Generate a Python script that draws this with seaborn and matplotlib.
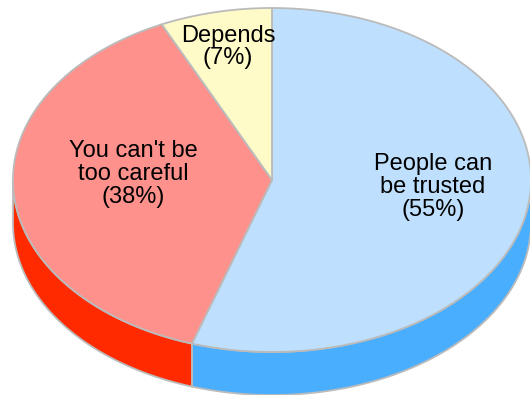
import numpy as np
import matplotlib
matplotlib.use("Agg")
import matplotlib.pyplot as plt
import seaborn as sns
from matplotlib.patches import Polygon

# data (clockwise from 12 o'clock)
labels = ["People can\nbe trusted", "You can't be\ntoo careful", "Depends"]
shares = [55, 38, 7]
top_colors = ["#BEE0FE", "#FF918C", "#FFFBC8"]
side_colors = ["#4AAEFF", "#FF2A00", "#FFE066"]
label_pos = [(433, 187), (133, 174), (228, 47)]

sns.set_theme(style="white")
plt.rcParams['font.family'] = ['Liberation Sans', 'DejaVu Sans']

fig = plt.figure(figsize=(5.3, 3.95), dpi=100)
ax = fig.add_axes([0, 0, 1, 1])
ax.set_xlim(0, 530)
ax.set_ylim(395, 0)
ax.axis("off")

# pie geometry in pixels
cx, cy, rx, ry, depth = 272, 180, 259, 172, 43
edge = "#BBBBBB"


def arc(a0, a1, dy=0, n=200):
    t = np.radians(np.linspace(a0, a1, n))
    return np.column_stack([cx + rx * np.sin(t), cy - ry * np.cos(t) + dy])


bounds = np.concatenate([[0], np.cumsum(shares)]) / sum(shares) * 360

# side walls (only the front half, 90..270 deg, is visible)
for i in range(len(shares)):
    a0, a1 = max(bounds[i], 90), min(bounds[i + 1], 270)
    if a1 <= a0:
        continue
    upper = arc(a0, a1)
    lower = arc(a0, a1, depth)[::-1]
    ax.add_patch(Polygon(np.vstack([upper, lower]), closed=True,
                         facecolor=side_colors[i], edgecolor=edge, lw=1.3))

# top faces
for i in range(len(shares)):
    pts = np.vstack([[cx, cy], arc(bounds[i], bounds[i + 1])])
    ax.add_patch(Polygon(pts, closed=True, facecolor=top_colors[i],
                         edgecolor=edge, lw=1.3, joinstyle="round"))

for lab, s, (x, y) in zip(labels, shares, label_pos):
    ax.text(x, y, f"{lab}\n({s}%)", ha="center", va="center",
            fontsize=17, color="black", linespacing=1.04)

fig.savefig("out.png", dpi=100)
